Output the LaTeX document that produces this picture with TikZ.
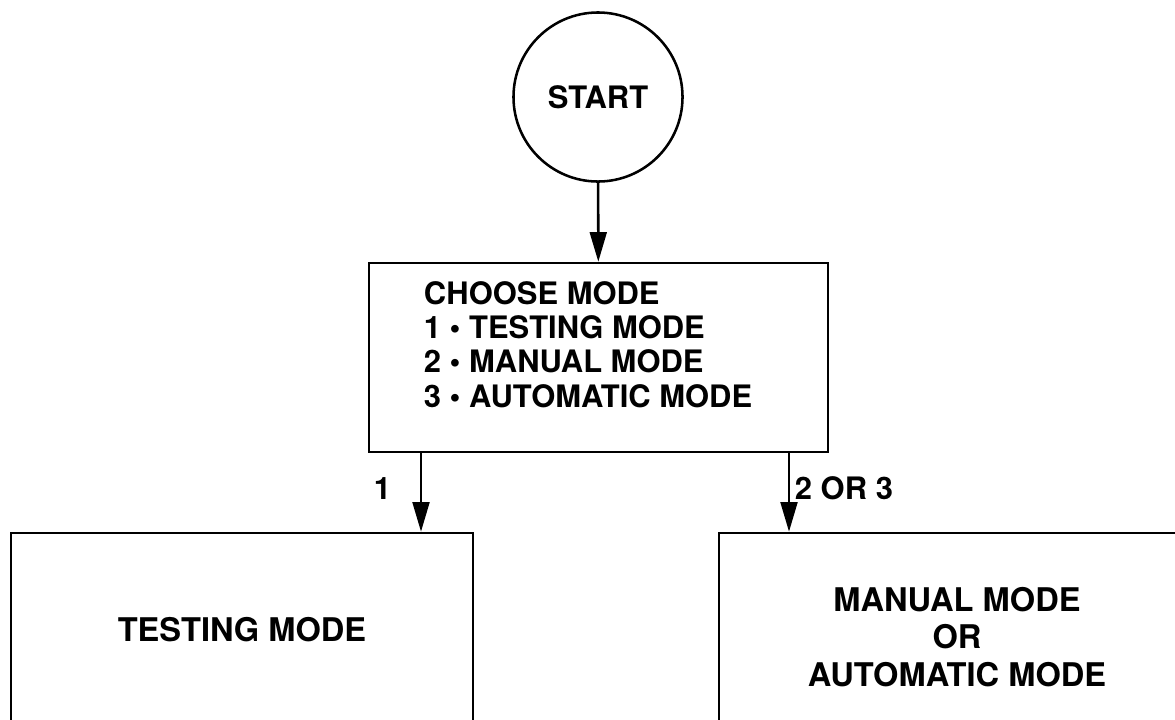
\documentclass[tikz,border=0pt]{standalone}
\usepackage{fontspec}
\setmainfont{TeX Gyre Heros}
\usetikzlibrary{arrows.meta,positioning}

\begin{document}
\begin{tikzpicture}[x=0.025cm, y=-0.025cm,
    font=\bfseries\fontsize{22}{24.2}\selectfont,
    box/.style={draw, rectangle, line width=1.8pt, inner sep=0pt},
    big/.style={font=\bfseries\fontsize{23.2}{26.6}\selectfont},
    flow/.style={line width=1.8pt, -{Triangle[length=0.74cm,width=0.42cm]}}]
  \clip (0,0) rectangle (1175,719);
  % start and mode selection
  \node[draw, circle, line width=1.8pt, minimum size=4.225cm] (start) at (598,97) {START};
  \node[box, minimum width=11.475cm, minimum height=4.725cm] (choose) at (598.5,357.5) {};
  \node[inner sep=0pt, align=left, below right=0.5cm and 1.4cm of choose.north west] (modes)
    {CHOOSE MODE\\1 • TESTING MODE\\2 • MANUAL MODE\\3 • AUTOMATIC MODE};
  % the two branches
  \node[box, big, minimum width=11.55cm, minimum height=4.85cm] (testing) at (242,630) {TESTING MODE};
  \node[box, big, minimum width=11.9cm, minimum height=5.2cm, align=center] (other) at (957,637)
    {MANUAL MODE\\OR\\AUTOMATIC MODE};
  \path (choose.south) ++(-177.5,0) coordinate (out1);
  \path (choose.south) ++(190.5,0) coordinate (out2);
  \draw[flow] (start) -- (choose);
  \draw[flow] (out1) -- (out1 |- testing.north) node[pos=0.45, left=0.6cm] (lab1) {1};
  \draw[flow] (out2) -- (out2 |- other.north) node[pos=0.45, right] (lab2) {2 OR 3};
\end{tikzpicture}
\end{document}
